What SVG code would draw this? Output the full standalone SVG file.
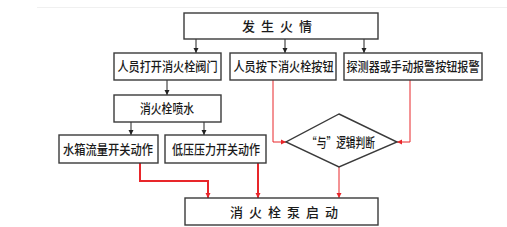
<svg xmlns="http://www.w3.org/2000/svg" width="507" height="227" viewBox="0 0 507 227">
<style>
.box{fill:#fff;stroke:#3a3a3a;stroke-width:1.4}
.t{font-family:"Noto Sans CJK SC","Liberation Sans",sans-serif;font-size:13px;font-weight:500;fill:#1a1a1a;text-anchor:middle}
.k{stroke:#222;stroke-width:1;fill:none}
.r{stroke:#e8262a;stroke-width:1;fill:none}
.R{stroke:#e8262a;stroke-width:2;fill:none}
</style>
<defs>
<marker id="ak" markerWidth="6" markerHeight="6" refX="5" refY="3" orient="auto" markerUnits="userSpaceOnUse"><path d="M0,0.5 L5,3 L0,5.5 Z" fill="#222"/></marker>
<marker id="ar" markerWidth="6" markerHeight="6" refX="5" refY="3" orient="auto" markerUnits="userSpaceOnUse"><path d="M0,0.5 L5,3 L0,5.5 Z" fill="#e8262a"/></marker>
</defs>
<line x1="37" y1="7.5" x2="507" y2="7.5" stroke="#f0f0f0" stroke-width="1"/>
<g id="connectors">
<path class="k" d="M196,39 V53" marker-end="url(#ak)"/>
<path class="k" d="M285,39 V53" marker-end="url(#ak)"/>
<path class="k" d="M364,39 V53" marker-end="url(#ak)"/>
<path class="k" d="M167,80 V95" marker-end="url(#ak)"/>
<path class="k" d="M131,122 V135" marker-end="url(#ak)"/>
<path class="k" d="M204,122 V135" marker-end="url(#ak)"/>
<path class="r" d="M273,80 V142 H286" marker-end="url(#ar)"/>
<path class="r" d="M410,80 V142 H397" marker-end="url(#ar)"/>
<path class="r" d="M339,167 V198" marker-end="url(#ar)"/>
<path class="R" d="M140,163 V181 H208 V198" marker-end="url(#ar)"/>
<path class="R" d="M258,163 V198" marker-end="url(#ar)"/>
</g>
<g id="n1"><rect class="box" x="184" y="13" width="194" height="26"/><text class="t" x="277" y="31" textLength="70" lengthAdjust="spacing">发生火情</text></g>
<g id="n2"><rect class="box" x="114" y="53" width="107" height="27"/><text class="t" x="167.5" y="71" textLength="100" lengthAdjust="spacingAndGlyphs">人员打开消火栓阀门</text></g>
<g id="n3"><rect class="box" x="230" y="53" width="106" height="27"/><text class="t" x="283.5" y="71" textLength="100" lengthAdjust="spacingAndGlyphs">人员按下消火栓按钮</text></g>
<g id="n4"><rect class="box" x="344" y="53" width="138" height="27"/><text class="t" x="413" y="71" textLength="133" lengthAdjust="spacingAndGlyphs">探测器或手动报警按钮报警</text></g>
<g id="n5"><rect class="box" x="114" y="95" width="107" height="27"/><text class="t" x="167" y="113" textLength="54" lengthAdjust="spacingAndGlyphs">消火栓喷水</text></g>
<g id="n6"><rect class="box" x="59" y="135" width="99" height="28"/><text class="t" x="108" y="154" textLength="90" lengthAdjust="spacingAndGlyphs">水箱流量开关动作</text></g>
<g id="n7"><rect class="box" x="165" y="135" width="101" height="28"/><text class="t" x="216" y="154" textLength="88" lengthAdjust="spacingAndGlyphs">低压压力开关动作</text></g>
<g id="n8"><path class="box" d="M339,114 L397,142 L339,167 L286,142 Z"/><text class="t" x="341" y="147" textLength="68" lengthAdjust="spacingAndGlyphs">“与”逻辑判断</text></g>
<g id="n9"><rect class="box" x="185" y="198" width="193" height="27"/><text class="t" x="284" y="217" textLength="108" lengthAdjust="spacing">消火栓泵启动</text></g>
</svg>
